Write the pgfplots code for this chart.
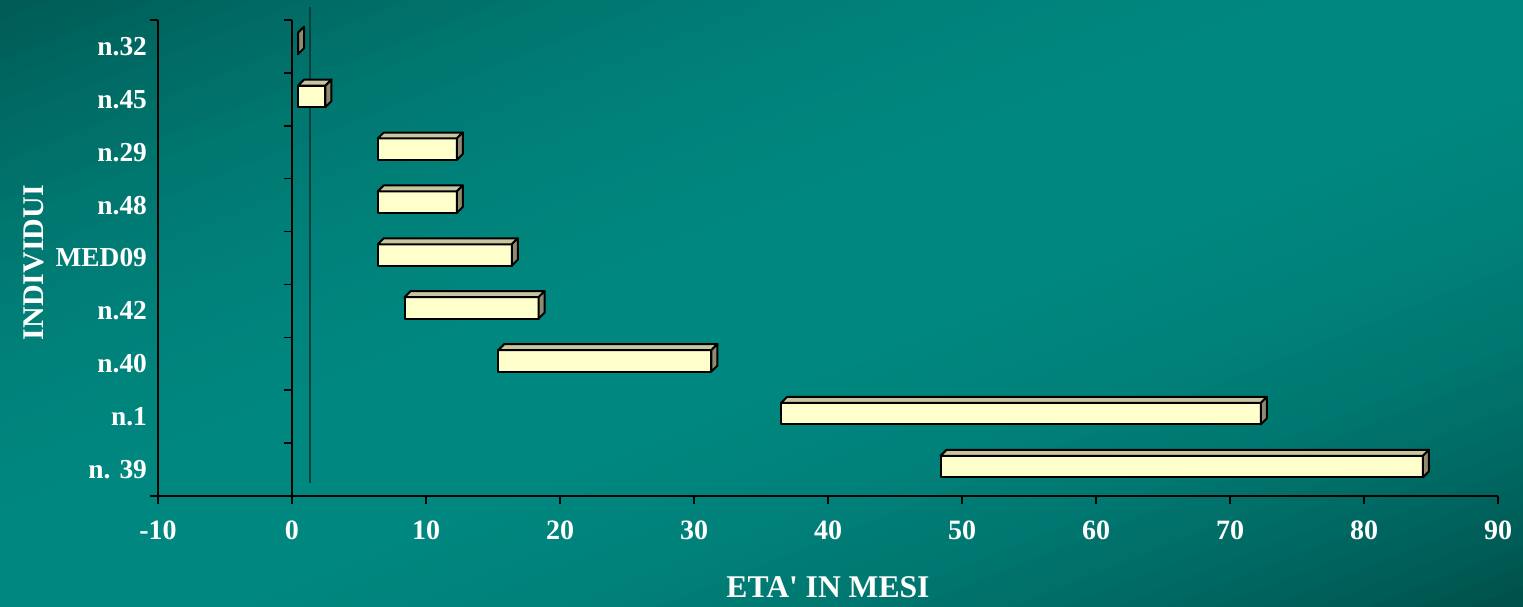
\documentclass[border=0pt]{standalone}
\usepackage{pgfplots}
\pgfplotsset{compat=1.18}
\usepackage{pgfplotstable}
\usepackage{fontspec}
\setmainfont{Liberation Serif}
\definecolor{bgA}{HTML}{005A54}
\definecolor{bgB}{HTML}{008880}
\definecolor{bgC}{HTML}{004F4A}
\definecolor{barfront}{HTML}{FFFFCC}
\definecolor{bartop}{HTML}{C9C5A0}
\definecolor{barside}{HTML}{8E8B70}
\definecolor{refline}{HTML}{01403D}

% c = category position (0 = bottom), s = start (months), e = end (months)
\pgfplotstableread{
c s e
8 0.45 0.45
7 0.45 2.5
6 6.4 12.3
5 6.4 12.3
4 6.4 16.4
3 8.4 18.4
2 15.4 31.3
1 36.5 72.3
0 48.4 84.4
}\bars

\begin{document}
\begin{tikzpicture}
% diagonal background gradient (dark top-left and bottom-right, light along the anti-diagonal)
\begin{scope}
\clip (0,0) rectangle (761.5pt,303pt);
\foreach \k in {0,...,59}{
  \pgfmathsetmacro\ua{\k/30}
  \pgfmathsetmacro\ub{(\k+1)/30+0.01}
  \pgfmathsetmacro\um{(\k+0.5)/30}
  \pgfmathsetmacro\pp{\um<1 ? 100*(1-(1-\um)^2) : 100*(1-(\um-1)^2)}
  \pgfmathsetmacro\xa{761.5*(\ua-1)-76.15}
  \pgfmathsetmacro\xb{761.5*(\ua-1)+837.65}
  \pgfmathsetmacro\xc{761.5*(\ub-1)+837.65}
  \pgfmathsetmacro\xd{761.5*(\ub-1)-76.15}
  \ifdim\um pt<1pt
    \colorlet{stripcol}{bgB!\pp!bgA}
  \else
    \colorlet{stripcol}{bgB!\pp!bgC}
  \fi
  \fill[stripcol] (\xa pt,-30.3pt) -- (\xb pt,333.3pt) -- (\xc pt,333.3pt) -- (\xd pt,-30.3pt) -- cycle;
}
\end{scope}
\begin{axis}[
  at={(79pt,55pt)}, anchor=south west, scale only axis,
  width=670pt, height=238pt,
  xmin=-10, xmax=90, ymin=-0.5, ymax=8.5, clip=false,
  axis line style={draw=none},
  xtick={-10,0,10,20,30,40,50,60,70,80,90},
  xticklabels={-10,0,10,20,30,40,50,60,70,80,90},
  xtick pos=left, tick align=outside, major tick length=4pt,
  x tick style={black, line width=0.75pt},
  ytick={0,1,2,3,4,5,6,7,8},
  yticklabels={n. 39,n.1,n.40,n.42,MED09,n.48,n.29,n.45,n.32},
  y tick style={draw=none},
  xticklabel style={font=\fontsize{14}{14}\selectfont\bfseries, text=white, yshift=-5pt},
  yticklabel style={font=\fontsize{13.7}{13.7}\selectfont\bfseries, text=white, xshift=2pt},
  xlabel={ETA\textquotesingle\ IN MESI},
  xlabel style={at={(axis description cs:0.5,-0.191)}, anchor=center, font=\fontsize{15.8}{15.8}\selectfont\bfseries, text=white},
  ylabel={INDIVIDUI},
  ylabel style={at={(axis description cs:-0.0925,0.4905)}, anchor=center, font=\fontsize{15}{15}\selectfont\bfseries, text=white},
]
% axis lines
\draw[black, line width=0.75pt] (axis cs:-10,8.5) -- (axis cs:-10,-0.5);
\draw[black, line width=0.75pt] (axis cs:-10,8.5) -- ++(-4pt,0pt);
\draw[black, line width=0.75pt] ([xshift=-4pt]axis cs:-10,-0.5) -- (axis cs:90,-0.5);
\draw[black, line width=0.75pt] (axis cs:0,-0.5) -- (axis cs:0,8.5);
\draw[black, line width=0.75pt] (axis cs:0,8.5) -- ++(-4pt,0pt);
\draw[black, line width=0.75pt] (axis cs:0,7.5) -- ++(-4pt,0pt);
\draw[black, line width=0.75pt] (axis cs:0,6.5) -- ++(-4pt,0pt);
\draw[black, line width=0.75pt] (axis cs:0,5.5) -- ++(-4pt,0pt);
\draw[black, line width=0.75pt] (axis cs:0,4.5) -- ++(-4pt,0pt);
\draw[black, line width=0.75pt] (axis cs:0,3.5) -- ++(-4pt,0pt);
\draw[black, line width=0.75pt] (axis cs:0,2.5) -- ++(-4pt,0pt);
\draw[black, line width=0.75pt] (axis cs:0,1.5) -- ++(-4pt,0pt);
\draw[black, line width=0.75pt] (axis cs:0,0.5) -- ++(-4pt,0pt);
\draw[black, line width=0.75pt] (axis cs:0,-0.5) -- ++(-4pt,0pt);
% reference line
\addplot[refline, line width=1pt] coordinates {(1.32,-0.25) (1.32,8.75)};
% 3D bars
\pgfplotsinvokeforeach{0,...,8}{
  \pgfplotstablegetelem{#1}{c}\of\bars \pgfmathsetmacro\cc{\pgfplotsretval}
  \pgfplotstablegetelem{#1}{s}\of\bars \pgfmathsetmacro\ss{\pgfplotsretval}
  \pgfplotstablegetelem{#1}{e}\of\bars \pgfmathsetmacro\ee{\pgfplotsretval}
  \pgfmathsetmacro\ya{\cc+0.057-0.203}
  \pgfmathsetmacro\yb{\cc+0.057+0.203}
  \pgfmathsetmacro\yc{\yb+0.113}
  \pgfmathsetmacro\yd{\ya+0.113}
  \pgfmathsetmacro\sx{\ss+0.447}
  \pgfmathsetmacro\ex{\ee+0.447}
  \addplot[fill=barfront, draw=black, line width=1pt, line join=round] coordinates {(\ss,\ya) (\ee,\ya) (\ee,\yb) (\ss,\yb)} -- cycle;
  \addplot[fill=bartop, draw=black, line width=1pt, line join=round] coordinates {(\ss,\yb) (\ee,\yb) (\ex,\yc) (\sx,\yc)} -- cycle;
  \addplot[fill=barside, draw=black, line width=1pt, line join=round] coordinates {(\ee,\ya) (\ex,\yd) (\ex,\yc) (\ee,\yb)} -- cycle;
}
\end{axis}
\pgfresetboundingbox
\useasboundingbox (0,0) rectangle (761.5pt,303pt);
\end{tikzpicture}
\end{document}
